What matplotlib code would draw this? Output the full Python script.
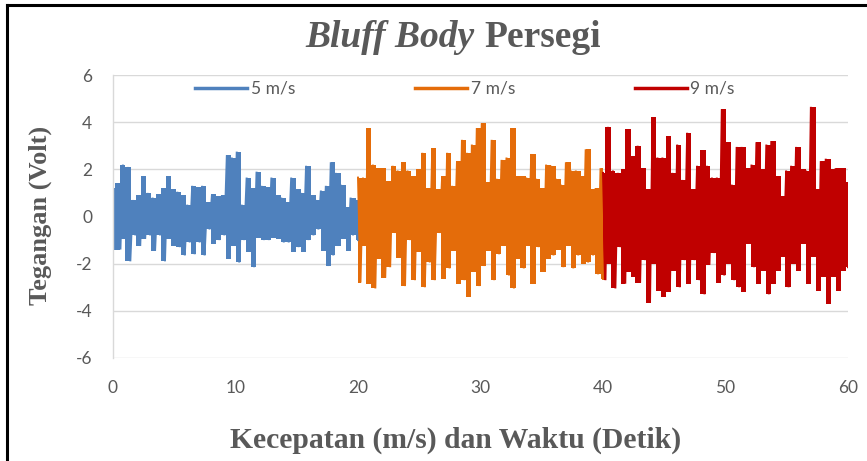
import numpy as np
import matplotlib
matplotlib.use("Agg")
import matplotlib.pyplot as plt
from matplotlib.lines import Line2D

plt.rcParams['axes.unicode_minus'] = False

# ---- data (upper / lower excursions) ----
blue_hi = [1.2, 1.4, 2.2, 2.1, 0.7, 0.9, 1.7, 1.0, 0.8, 0.95,
           1.2, 1.7, 1.15, 1.05, 0.9, 0.5, 1.3, 1.25, 1.3, 0.6,
           0.95, 0.85, 0.9, 2.6, 2.5, 2.75, 0.5, 1.65, 1.2, 1.9,
           1.3, 1.25, 1.65, 0.9, 0.8, 0.6, 1.65, 1.15, 1.0, 2.15,
           0.9, 0.7, 1.1, 1.3, 2.3, 1.85, 1.35, 0.4, 0.8, 0.7]
blue_lo = [-1.4, -1.4, -0.95, -1.9, -0.8, -1.25, -0.95, -0.8, -1.45, -0.8,
           -1.9, -0.95, -1.25, -1.3, -1.65, -1.1, -1.6, -1.1, -1.65, -0.55,
           -1.15, -1.0, -0.8, -1.8, -1.25, -1.95, -1.0, -1.5, -2.15, -0.9,
           -1.0, -1.0, -0.9, -0.95, -1.1, -1.1, -1.5, -1.3, -1.5, -1.0,
           -0.8, -0.55, -1.45, -2.1, -1.65, -1.25, -0.95, -1.45, -0.8, -1.0]

orange_hi = [1.65, 1.65, 3.75, 2.2, 2.05, 2.05, 1.5, 2.15, 1.95, 2.3,
             1.95, 1.7, 2.0, 2.7, 1.2, 2.9, 1.15, 1.7, 2.7, 1.3,
             2.35, 3.25, 2.7, 3.05, 3.75, 3.95, 1.45, 3.25, 1.6, 2.4,
             2.5, 3.75, 1.7, 1.7, 1.65, 2.65, 1.6, 1.2, 2.2, 2.15,
             1.6, 1.35, 2.3, 1.95, 1.95, 1.7, 2.85, 1.15, 1.2, 2.05]
orange_lo = [-2.8, -1.25, -2.85, -3.05, -1.8, -2.6, -2.15, -0.7, -1.75, -2.95,
             -1.0, -2.7, -1.5, -3.0, -1.95, -2.7, -0.7, -2.65, -2.2, -1.45,
             -2.85, -2.7, -3.4, -2.35, -2.95, -2.1, -1.45, -2.7, -1.6, -1.25,
             -2.5, -3.05, -1.8, -2.2, -1.25, -2.85, -1.3, -2.35, -1.8, -1.65,
             -1.4, -2.15, -1.25, -2.2, -1.65, -2.0, -1.95, -1.65, -2.45, -2.65]

red_hi = [1.85, 3.8, 1.95, 1.85, 2.0, 3.7, 2.55, 3.0, 2.05, 1.15,
          4.2, 2.5, 2.5, 3.4, 1.85, 3.05, 1.55, 3.55, 1.15, 2.15,
          2.8, 2.15, 1.65, 1.65, 4.55, 3.15, 1.35, 2.95, 2.95, 2.05,
          2.2, 3.15, 2.0, 3.05, 3.2, 1.7, 0.85, 1.95, 2.15, 2.95,
          2.0, 1.95, 4.65, 1.15, 2.35, 2.45, 2.0, 2.05, 2.05, 1.45]
red_lo = [-2.7, -2.0, -3.05, -1.3, -2.85, -2.35, -2.55, -2.8, -1.85, -3.65,
          -2.0, -3.15, -3.4, -3.2, -2.3, -3.0, -1.85, -2.85, -1.85, -2.7,
          -3.3, -2.05, -1.55, -2.8, -2.5, -2.0, -2.7, -3.0, -3.2, -1.15,
          -2.15, -2.85, -2.3, -3.3, -2.85, -2.3, -1.7, -3.0, -2.0, -2.3,
          -1.15, -2.85, -1.7, -3.15, -2.55, -3.7, -2.55, -3.15, -2.3, -2.15]

series_labels = ["5 m/s", "7 m/s", "9 m/s"]
series_start = [0, 20, 40]
series_span = 20
series_colors = ["#4F81BD", "#E46C0A", "#C00000"]
x_ticks = [0, 10, 20, 30, 40, 50, 60]
y_ticks = [-6, -4, -2, 0, 2, 4, 6]


def interleave(hi, lo):
    out = []
    for h, l in zip(hi, lo):
        out.extend([h, l])
    return np.array(out)


fig = plt.figure(figsize=(8.67, 4.61), dpi=100)
ax = fig.add_axes([113 / 867, 1 - 358 / 461, (848 - 113) / 867, (358 - 75) / 461])

for (hi, lo), t0, col, lab in zip([(blue_hi, blue_lo), (orange_hi, orange_lo), (red_hi, red_lo)],
                                  series_start, series_colors, series_labels):
    tt = t0 + np.arange(len(hi)) * series_span / (len(hi) - 1)
    ax.fill_between(tt, lo, hi, step='mid', color=col, lw=0)
    v = interleave(hi, lo)
    t = t0 + np.arange(len(v)) * series_span / (len(v) - 1)
    ax.plot(t, v, color=col, lw=1.4, label=lab, solid_joinstyle='miter')

ax.set_xlim(0, 60)
ax.set_ylim(-6, 6)
ax.set_xticks(x_ticks)
ax.set_yticks(y_ticks)
ax.grid(axis='y', color='#D9D9D9', lw=1.0)
ax.set_axisbelow(True)
for s in ['top', 'right', 'bottom']:
    ax.spines[s].set_visible(False)
ax.spines['left'].set_color('#D9D9D9')
ax.spines['left'].set_linewidth(1.0)
ax.tick_params(length=0, colors='#595959', labelsize=12.5)
tick_font = ['Lato', 'DejaVu Sans']
for lbl in ax.get_xticklabels() + ax.get_yticklabels():
    lbl.set_family(tick_font)
ax.tick_params(axis='x', pad=16)
ax.tick_params(axis='y', pad=15)

leg = ax.legend(loc='upper center', bbox_to_anchor=(0.479, 1.035), ncol=3, frameon=False,
                handlelength=3.0, handletextpad=0.2, columnspacing=6.9,
                prop={'family': tick_font, 'size': 12.5})
for txt in leg.get_texts():
    txt.set_color('#595959')
for h in leg.get_lines():
    h.set_linewidth(2.5)

label_color = '#595959'
fig.text(40 / 867, 1 - 215 / 461, "Tegangan (Volt)", family='Liberation Serif',
         fontweight='bold', fontsize=19, color=label_color, rotation=90,
         ha='center', va='center')
fig.text(456 / 867, 1 - 440 / 461, "Kecepatan (m/s) dan Waktu (Detik)",
         family='Liberation Serif', fontweight='bold', fontsize=21.3,
         color=label_color, ha='center', va='center')

# title: italic "Bluff Body" + bold "Persegi"
fig.canvas.draw()
r = fig.canvas.get_renderer()
t1 = fig.text(0, 0, "Bluff Body ", family='Liberation Serif', style='italic',
              fontweight='bold', fontsize=27, color=label_color)
t2 = fig.text(0, 0, "Persegi", family='Liberation Serif', fontweight='bold',
              fontsize=27, color=label_color)
w1 = t1.get_window_extent(r).width
w2 = t2.get_window_extent(r).width
cx = 453
yb = 1 - 47 / 461
t1.set_position(((cx - (w1 + w2) / 2) / 867, yb))
t2.set_position(((cx - (w1 + w2) / 2 + w1) / 867, yb))

# black frame edges (top and left)
fig.add_artist(Line2D([7 / 867, 7 / 867], [0, 1 - 5 / 461], color='black', lw=2.2,
                      transform=fig.transFigure))
fig.add_artist(Line2D([7 / 867, 1], [1 - 5 / 461, 1 - 5 / 461], color='black', lw=2.2,
                      transform=fig.transFigure))

fig.savefig("out.png", dpi=100)
